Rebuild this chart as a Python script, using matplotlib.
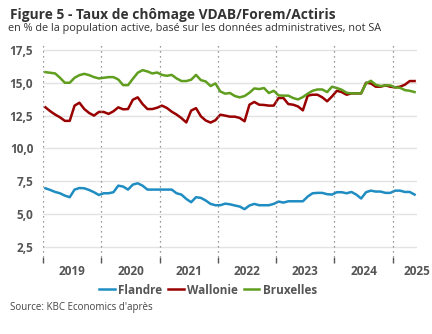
import matplotlib
matplotlib.use("Agg")
import matplotlib.pyplot as plt
import numpy as np

# monthly data, Jan 2019 - May 2025
flandre = [6.97, 6.84, 6.69, 6.59, 6.41, 6.29, 6.87, 6.99, 6.97, 6.84, 6.67, 6.46,
           6.59, 6.59, 6.67, 7.17, 7.10, 6.87, 7.25, 7.35, 7.17, 6.87, 6.87, 6.87,
           6.87, 6.87, 6.87, 6.59, 6.49, 6.16, 5.91, 6.29, 6.24, 6.04, 5.78, 5.68,
           5.68, 5.80, 5.75, 5.66, 5.58, 5.38, 5.66, 5.78, 5.68, 5.68, 5.68, 5.78,
           5.96, 5.88, 5.98, 5.98, 5.98, 5.98, 6.34, 6.59, 6.62, 6.62, 6.52, 6.49,
           6.67, 6.67, 6.59, 6.69, 6.49, 6.19, 6.67, 6.79, 6.72, 6.72, 6.62, 6.62,
           6.79, 6.79, 6.69, 6.69, 6.49]
wallonie = [13.13, 12.83, 12.58, 12.37, 12.10, 12.10, 13.26, 13.48, 13.00, 12.70, 12.50, 12.78,
            12.78, 12.63, 12.83, 13.13, 12.98, 13.00, 13.71, 13.89, 13.38, 13.00, 13.00, 13.10,
            13.26, 13.08, 12.80, 12.58, 12.31, 11.98, 12.88, 13.07, 12.45, 12.13, 11.97, 12.15,
            12.57, 12.50, 12.42, 12.42, 12.32, 12.07, 13.33, 13.54, 13.33, 13.31, 13.26, 13.26,
            13.84, 13.84, 13.38, 13.33, 13.20, 12.90, 14.02, 14.09, 14.09, 13.89, 13.59, 13.96,
            14.39, 14.29, 14.09, 14.19, 14.19, 14.19, 15.00, 14.95, 14.70, 14.70, 14.80, 14.70,
            14.65, 14.70, 14.85, 15.13, 15.13]
bruxelles = [15.81, 15.76, 15.71, 15.38, 15.00, 15.00, 15.38, 15.58, 15.68, 15.58, 15.43, 15.33,
             15.38, 15.43, 15.43, 15.25, 14.82, 14.82, 15.30, 15.76, 15.96, 15.86, 15.71, 15.78,
             15.60, 15.53, 15.60, 15.33, 15.13, 15.13, 15.23, 15.60, 15.20, 15.10, 14.75, 14.95,
             14.34, 14.17, 14.22, 13.99, 13.89, 13.99, 14.24, 14.57, 14.52, 14.60, 14.22, 14.39,
             14.04, 14.02, 14.02, 13.84, 13.73, 13.91, 14.17, 14.39, 14.49, 14.49, 14.29, 14.70,
             14.60, 14.47, 14.24, 14.19, 14.19, 14.19, 14.95, 15.15, 14.85, 14.75, 14.80, 14.80,
             14.65, 14.62, 14.44, 14.39, 14.29]
years = ["2019", "2020", "2021", "2022", "2023", "2024", "2025"]
yticks = [2.5, 5.0, 7.5, 10.0, 12.5, 15.0, 17.5]

plt.rcParams['font.family'] = ['Open Sans', 'DejaVu Sans']
txt = '#555555'

fig = plt.figure(figsize=(4.32, 3.34), dpi=100)
ax = fig.add_axes([43 / 432, 1 - 257 / 334, 374 / 432, 213 / 334])

x = np.arange(len(flandre)) + 0.5
ax.plot(x, flandre, color='#1f8dc2', lw=1.8, label='Flandre')
ax.plot(x, wallonie, color='#990000', lw=1.8, label='Wallonie')
ax.plot(x, bruxelles, color='#5f9e1e', lw=1.8, label='Bruxelles')

ax.set_xlim(0, 77)
ax.set_ylim(1.74, 17.95)
for s in ax.spines.values():
    s.set_visible(False)

ax.set_yticks(yticks)
ax.set_yticklabels([f"{v:.1f}".replace('.', ',') for v in yticks])
ax.tick_params(axis='y', length=0, pad=7, labelsize=8.5, labelcolor=txt)
for lab in ax.get_yticklabels():
    lab.set_fontweight('bold')
ax.grid(axis='y', color='#e3e3e3', lw=1)

bounds = list(range(0, 73, 12))
ax.set_xticks(bounds)
ax.set_xticklabels([])
ax.tick_params(axis='x', which='major', length=4, width=1, color='#555555', direction='out')
for b in bounds:
    ax.axvline(b, color='#777777', lw=0.9, ls=(0, (1, 3)))
mids = [6, 18, 30, 42, 54, 66, 77]
ax.set_xticks(mids, minor=True)
ax.set_xticklabels(years, minor=True)
ax.tick_params(axis='x', which='minor', length=0, pad=6, labelsize=8.5, labelcolor=txt)
for lab in ax.get_xticklabels(minor=True):
    lab.set_fontweight('bold')

fig.text(10 / 432, 1 - 19 / 334, "Figure 5 - Taux de chômage VDAB/Forem/Actiris",
         fontsize=9.9, fontweight='bold', color='#333333', va='baseline')
fig.text(8 / 432, 1 - 31 / 334,
         "en % de la population active, basé sur les données administratives, not SA",
         fontsize=7.8, color='#333333', va='baseline')
fig.text(10 / 432, 1 - 310 / 334, "Source: KBC Economics d'après",
         fontsize=7.0, color='#444444', va='baseline')

leg = fig.legend(loc='center', bbox_to_anchor=(0.482, 1 - 290 / 334), ncol=3, frameon=False,
                 handlelength=1.3, handletextpad=0.3, columnspacing=0.5,
                 prop={'size': 8.5, 'weight': 'bold'})
for t in leg.get_texts():
    t.set_color(txt)

fig.savefig("out.png", dpi=100)
